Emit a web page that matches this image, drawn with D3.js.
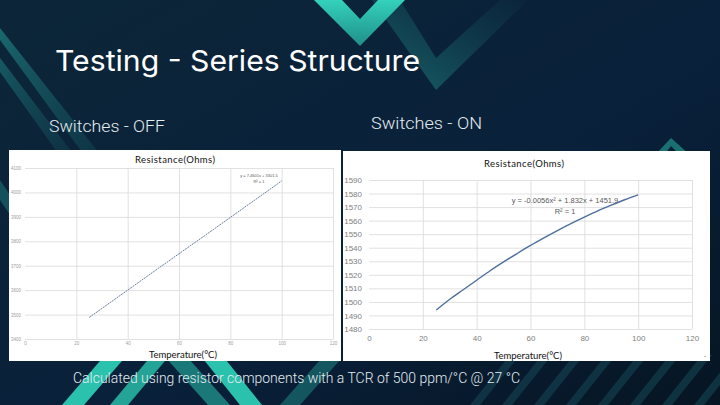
<!DOCTYPE html>
<html><head><meta charset="utf-8">
<script src="https://cdn.jsdelivr.net/npm/d3@7"></script>
<style>body{margin:0;background:#0a2236;overflow:hidden}svg{display:block}</style>
</head><body>
<svg id="c" width="720" height="405"></svg>
<script>
// ---------- DATA ----------
const offTemps = [25, 40, 55, 70, 85, 100];
const offRes   = [3488, 3600, 3712, 3823, 3935, 4047];
const onTemps  = [25, 30, 35, 40, 45, 50, 55, 60, 65, 70, 75, 80, 85, 90, 95, 100];
const onRes    = [1494, 1502, 1509, 1516, 1523, 1529.5, 1535.7, 1541.7, 1547.3, 1552.7, 1557.8, 1562.6, 1567.2, 1571.4, 1575.4, 1579];
const xTickVals   = [0, 20, 40, 60, 80, 100, 120];
const offYTickVals = [3400, 3500, 3600, 3700, 3800, 3900, 4000, 4100];
const onYTickVals  = [1480, 1490, 1500, 1510, 1520, 1530, 1540, 1550, 1560, 1570, 1580, 1590];
const offEquation = ["y = 7.4601x + 3301.5", "R² = 1"];
const onEquation  = ["y = -0.0056x² + 1.832x + 1451.9", "R² = 1"];

const svg = d3.select("#c");
const defs = svg.append("defs");

// ---------- BACKGROUND ----------
const bg = defs.append("linearGradient").attr("id","bg").attr("x1","0").attr("y1","0").attr("x2","1").attr("y2","1");
bg.append("stop").attr("offset","0").attr("stop-color","#0c2638");
bg.append("stop").attr("offset","0.6").attr("stop-color","#09203a");
bg.append("stop").attr("offset","1").attr("stop-color","#061522");
svg.append("rect").attr("width",720).attr("height",405).attr("fill","url(#bg)");

const g1 = defs.append("linearGradient").attr("id","tealV").attr("x1","0").attr("y1","0").attr("x2","0").attr("y2","1");
g1.append("stop").attr("offset","0").attr("stop-color","#34d1bb");
g1.append("stop").attr("offset","1").attr("stop-color","#1f8f8a");
const g2 = defs.append("linearGradient").attr("id","darkV").attr("x1","0").attr("y1","1").attr("x2","1").attr("y2","0");
g2.append("stop").attr("offset","0").attr("stop-color","#1b6f72").attr("stop-opacity",0.85);
g2.append("stop").attr("offset","1").attr("stop-color","#15525e").attr("stop-opacity",0.05);
const g3 = defs.append("linearGradient").attr("id","leftS").attr("x1","0").attr("y1","0").attr("x2","1").attr("y2","1");
g3.append("stop").attr("offset","0").attr("stop-color","#1b6f74");
g3.append("stop").attr("offset","1").attr("stop-color","#134a55").attr("stop-opacity",0.4);

const deco = svg.append("g");
const poly = (pts, fill, op=1) => deco.append("polygon").attr("points", pts.map(p=>p.join(",")).join(" ")).attr("fill", fill).attr("opacity", op);
poly([[372,0],[400,0],[436,58],[500,0],[528,0],[436,90]], "url(#darkV)");
poly([[314,0],[342,0],[360,19],[378,0],[405,0],[360,46]], "url(#tealV)");
poly([[0,28],[0,40],[95,170],[103,158]], "url(#leftS)", 0.9);
poly([[0,58],[0,72],[70,170],[78,160]], "url(#leftS)", 0.7);
poly([[0,200],[0,180],[10,195],[10,215]], "#1b6f74", 0.6);
poly([[655,155],[671,138],[690,155],[680,155],[671,146],[664,155]], "#1f8580", 0.8);
poly([[62,405],[84,405],[140,340],[118,340]], "#2bc2ad");
poly([[110,405],[128,405],[170,355],[152,355]], "#27b3a2", 0.9);
poly([[200,355],[222,355],[262,405],[240,405]], "#2bc2ad");
poly([[150,340],[172,340],[230,405],[208,405]], "#1f8f8a", 0.8);
poly([[280,405],[300,405],[340,360],[320,360]], "#1a6f72", 0.7);
for (let i = 0; i < 8; i++) {
  const x0 = 470 + i*32;
  poly([[x0,405],[x0+10,405],[x0+50,355],[x0+40,355]], "#123a48", 0.8);
}

// ---------- TEXTS ----------
svg.append("text").attr("x",55).attr("y",71).text("Testing - Series Structure")
  .attr("fill","#ffffff").attr("font-family","Inter, 'Open Sans', sans-serif").attr("font-size",29).attr("font-weight",400)
  .attr("textLength",365).attr("lengthAdjust","spacingAndGlyphs");
svg.append("text").attr("x",49).attr("y",132).text("Switches - OFF")
  .attr("fill","#e4ecf0").attr("font-family","Roboto, sans-serif").attr("font-weight",300).attr("font-size",17)
  .attr("textLength",116).attr("lengthAdjust","spacingAndGlyphs");
svg.append("text").attr("x",371).attr("y",129).text("Switches - ON")
  .attr("fill","#e4ecf0").attr("font-family","Roboto, sans-serif").attr("font-weight",300).attr("font-size",17)
  .attr("textLength",111).attr("lengthAdjust","spacingAndGlyphs");
svg.append("text").attr("x",73).attr("y",383).text("Calculated using resistor components with a TCR of 500 ppm/°C @ 27 °C")
  .attr("fill","#e4ecf0").attr("font-family","Roboto, sans-serif").attr("font-weight",300).attr("font-size",15)
  .attr("textLength",447).attr("lengthAdjust","spacingAndGlyphs");

// ---------- CHART PANELS ----------
function chart(opts) {
  const g = svg.append("g");
  g.append("rect").attr("x",opts.px).attr("y",opts.py).attr("width",opts.pw).attr("height",opts.ph).attr("fill","#ffffff");
  const x = d3.scaleLinear().domain([0,120]).range([opts.x0, opts.x1]);
  const y = d3.scaleLinear().domain(opts.ydom).range([opts.y0, opts.y1]);
  const gy = g.append("g").attr("transform",`translate(${opts.x0},0)`)
    .call(d3.axisLeft(y).tickValues(opts.yticks).tickSize(-(opts.x1-opts.x0)).tickFormat(""));
  gy.select(".domain").remove();
  gy.selectAll("line").attr("stroke","#d9d9d9").attr("stroke-width",0.8);
  const gx = g.append("g").attr("transform",`translate(0,${opts.y0})`)
    .call(d3.axisBottom(x).tickValues(xTickVals.slice(1)).tickSize(-(opts.y0-opts.y1)).tickFormat(""));
  gx.select(".domain").remove();
  gx.selectAll("line").attr("stroke","#d9d9d9").attr("stroke-width",0.8);
  const ly = g.append("g").attr("transform",`translate(${opts.ylabX},0)`)
    .call(d3.axisLeft(y).tickValues(opts.yticks).tickSize(0).tickPadding(0).tickFormat(d3.format("d")));
  ly.select(".domain").remove();
  ly.selectAll("text").attr("fill",opts.tickColor).attr("font-size",opts.tickSize).attr("font-family","'Liberation Sans', Arial, sans-serif");
  const lx = g.append("g").attr("transform",`translate(0,${opts.xlabY})`)
    .call(d3.axisBottom(x).tickValues(xTickVals).tickSize(0).tickPadding(0).tickFormat(d3.format("d")));
  lx.select(".domain").remove();
  lx.selectAll("text").attr("fill",opts.tickColor).attr("font-size",opts.tickSize).attr("font-family","'Liberation Sans', Arial, sans-serif");
  const line = d3.line().x((d,i)=>x(opts.xs[i])).y((d,i)=>y(opts.ys[i])).curve(d3.curveMonotoneX);
  g.append("path").datum(opts.ys).attr("d",line).attr("fill","none")
    .attr("stroke",opts.lineColor).attr("stroke-width",opts.lineWidth)
    .attr("stroke-dasharray",opts.dash||null);
  g.append("text").attr("x",opts.titleX).attr("y",opts.titleY).attr("text-anchor","middle").text("Resistance(Ohms)")
    .attr("font-family","Lato, sans-serif").attr("font-size",9.5).attr("fill","#111")
    .attr("textLength",80).attr("lengthAdjust","spacing");
  g.append("text").attr("x",opts.xtitleX).attr("y",opts.xtitleY).attr("text-anchor","middle").text("Temperature(°C)")
    .attr("font-family","Lato, sans-serif").attr("font-size",9.5).attr("fill","#111")
    .attr("textLength",68).attr("lengthAdjust","spacing");
  g.append("text").attr("x",opts.eqX).attr("y",opts.eqY).attr("text-anchor","middle").text(opts.eq[0])
    .attr("font-family","'Liberation Sans', Arial, sans-serif").attr("font-size",opts.eqSize).attr("fill","#595959");
  g.append("text").attr("x",opts.eqX).attr("y",opts.eqY+opts.eqSize*1.4).attr("text-anchor","middle").text(opts.eq[1])
    .attr("font-family","'Liberation Sans', Arial, sans-serif").attr("font-size",opts.eqSize).attr("fill","#595959");
}

chart({px:9,py:150,pw:332,ph:211,
  x0:25,x1:333,y0:339,y1:168,ydom:[3400,4100],yticks:offYTickVals,
  ylabX:21,xlabY:342,tickColor:"#a0a0a0",tickSize:4.5,
  xs:offTemps,ys:offRes,lineColor:"#6a7f9e",lineWidth:1,dash:"2,0.8",
  titleX:175,titleY:163,xtitleX:183,xtitleY:358,
  eq:offEquation,eqX:259,eqY:177,eqSize:4});

chart({px:343,py:151,pw:367,ph:210,
  x0:369,x1:692,y0:329,y1:180,ydom:[1480,1590],yticks:onYTickVals,
  ylabX:362,xlabY:335,tickColor:"#7f7f7f",tickSize:8,
  xs:onTemps,ys:onRes,lineColor:"#4e6e9e",lineWidth:1.4,
  titleX:524,titleY:167,xtitleX:528,xtitleY:359,
  eq:onEquation,eqX:565,eqY:203,eqSize:7.5});

svg.append("text").attr("x",704).attr("y",357).text(".").attr("fill","#333").attr("font-size",8);
</script>
</body></html>
